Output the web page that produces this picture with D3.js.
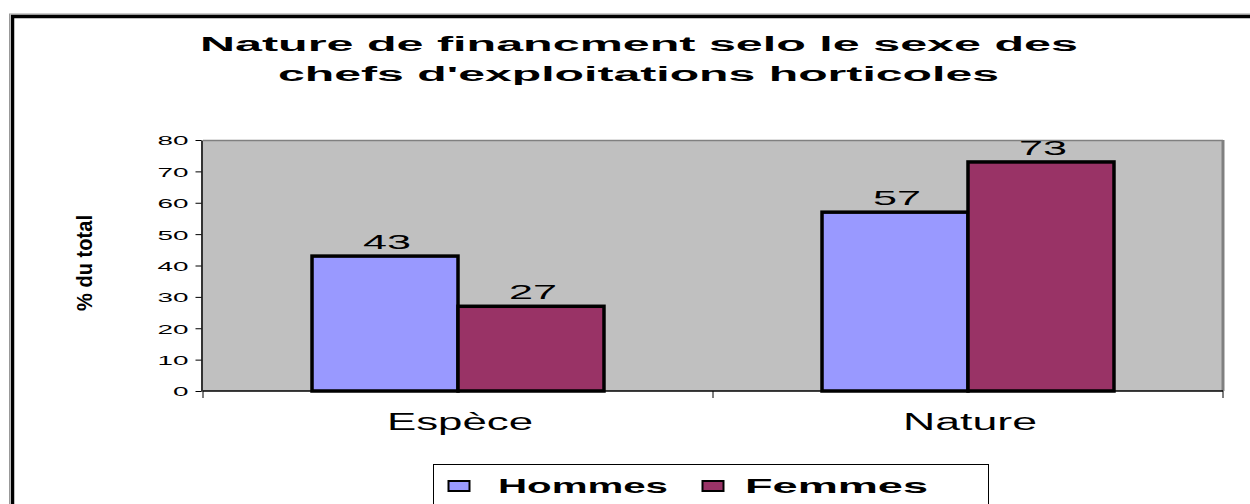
<!DOCTYPE html>
<html lang="fr">
<head>
    <meta charset="UTF-8">
    <title>Nature de financement selon le sexe</title>
    <script src="https://d3js.org/d3.v7.min.js"></script>
    <style>
        body { margin: 0; background: #fff; }
        svg { display: block; font-family: Arial, "Liberation Sans", sans-serif; }
    </style>
</head>
<body>
    <div id="chart"></div>

    <script>
        // data
        const categories = ["Espèce", "Nature"];
        const seriesNames = ["Hommes", "Femmes"];
        const hommes = [43, 57];
        const femmes = [27, 73];
        const yTicks = [0, 10, 20, 30, 40, 50, 60, 70, 80];
        const titleLines = ["Nature de financment selo le sexe des", "chefs d'exploitations horticoles"];
        const yLabel = "% du total";
        const colors = ["#9999FF", "#993366"];

        const W = 1250, H = 504;
        const plot = { left: 203, right: 1223, top: 140, bottom: 391 };

        const svg = d3.select("#chart").append("svg")
            .attr("width", W)
            .attr("height", H);

        // outer frame (runs off the right and bottom edge)
        svg.append("rect")
            .attr("x", 9.5).attr("y", 14)
            .attr("width", 1400).attr("height", 600)
            .attr("fill", "none").attr("stroke", "#999").attr("stroke-width", 1);
        svg.append("rect")
            .attr("x", 12.5).attr("y", 16.5)
            .attr("width", 1400).attr("height", 600)
            .attr("fill", "none").attr("stroke", "#000").attr("stroke-width", 3.5);

        // title
        const titleLen = [878, 721];
        svg.selectAll(".title")
            .data(titleLines)
            .enter().append("text")
            .attr("class", "title")
            .attr("x", (d, i) => i === 0 ? 200 : 278)
            .attr("y", (d, i) => 51 + i * 30)
            .attr("textLength", (d, i) => titleLen[i])
            .attr("lengthAdjust", "spacingAndGlyphs")
            .attr("font-size", 19.5)
            .attr("font-weight", "bold")
            .text(d => d);

        // scales
        const x0 = d3.scaleBand()
            .domain(categories)
            .range([plot.left, plot.right])
            .paddingInner(0.4275)
            .paddingOuter(0.21375);
        const x1 = d3.scaleBand()
            .domain(seriesNames)
            .range([0, x0.bandwidth()]);
        const y = d3.scaleLinear()
            .domain([0, 80])
            .range([plot.bottom, plot.top]);

        // plot area
        svg.append("rect")
            .attr("x", plot.left).attr("y", plot.top)
            .attr("width", plot.right - plot.left)
            .attr("height", plot.bottom - plot.top)
            .attr("fill", "#C0C0C0");
        svg.append("line")
            .attr("x1", plot.left).attr("x2", plot.right)
            .attr("y1", plot.top + 0.5).attr("y2", plot.top + 0.5)
            .attr("stroke", "#808080").attr("stroke-width", 1.5);
        svg.append("line")
            .attr("x1", plot.right).attr("x2", plot.right)
            .attr("y1", plot.top).attr("y2", plot.bottom)
            .attr("stroke", "#808080").attr("stroke-width", 3);

        // y axis
        const yAxis = svg.append("g")
            .attr("transform", `translate(${plot.left - 1.5},0)`)
            .call(d3.axisLeft(y).tickValues(yTicks).tickSize(6).tickSizeOuter(0));
        yAxis.select(".domain").attr("stroke", "#333").attr("stroke-width", 2);
        yAxis.selectAll(".tick line").attr("stroke", "#000");
        yAxis.selectAll(".tick text")
            .attr("x", -13)
            .attr("dy", "0.36em")
            .attr("font-size", 13.5)
            .attr("font-family", "Arial, 'Liberation Sans', sans-serif")
            .attr("fill", "#000")
            .attr("textLength", d => String(d).length * 15.5)
            .attr("lengthAdjust", "spacingAndGlyphs");

        // y label (squeezed like the original)
        svg.append("text")
            .attr("transform", "translate(92,263) rotate(-90)")
            .attr("text-anchor", "middle")
            .attr("font-size", 22)
            .attr("font-weight", "bold")
            .attr("textLength", 96)
            .attr("lengthAdjust", "spacingAndGlyphs")
            .text(yLabel);

        // x axis: baseline and ticks between categories
        svg.append("line")
            .attr("x1", plot.left).attr("x2", plot.right)
            .attr("y1", plot.bottom).attr("y2", plot.bottom)
            .attr("stroke", "#000").attr("stroke-width", 1.5);
        const boundaries = d3.range(categories.length + 1).map(i => plot.left + i * x0.step());
        svg.selectAll(".xtick")
            .data(boundaries)
            .enter().append("line")
            .attr("x1", d => d).attr("x2", d => d)
            .attr("y1", plot.bottom).attr("y2", plot.bottom + 7)
            .attr("stroke", "#000").attr("stroke-width", 1);
        const catLen = [146, 134];
        svg.selectAll(".cat")
            .data(categories)
            .enter().append("text")
            .attr("x", d => x0(d) + x0.bandwidth() / 2 + 2)
            .attr("y", 430)
            .attr("text-anchor", "middle")
            .attr("font-size", 23)
            .attr("textLength", (d, i) => catLen[i])
            .attr("lengthAdjust", "spacingAndGlyphs")
            .text(d => d);

        // bars
        const rows = categories.map((c, i) => ({ cat: c, values: [hommes[i], femmes[i]] }));
        const groups = svg.selectAll(".grp")
            .data(rows)
            .enter().append("g")
            .attr("transform", d => `translate(${x0(d.cat)},0)`);
        groups.selectAll("rect")
            .data(d => d.values.map((v, j) => ({ s: seriesNames[j], v: v, j: j })))
            .enter().append("rect")
            .attr("x", d => x1(d.s))
            .attr("y", d => y(d.v))
            .attr("width", x1.bandwidth())
            .attr("height", d => y(0) - y(d.v))
            .attr("fill", d => colors[d.j])
            .attr("stroke", "#000")
            .attr("stroke-width", 3.5);
        groups.selectAll(".val")
            .data(d => d.values.map((v, j) => ({ s: seriesNames[j], v: v })))
            .enter().append("text")
            .attr("x", d => x1(d.s) + x1.bandwidth() / 2 + 2)
            .attr("y", d => y(d.v) - 7)
            .attr("text-anchor", "middle")
            .attr("font-size", 21)
            .attr("textLength", 48)
            .attr("lengthAdjust", "spacingAndGlyphs")
            .text(d => d.v);

        // legend
        svg.append("rect")
            .attr("x", 433.5).attr("y", 464.5)
            .attr("width", 555).attr("height", 60)
            .attr("fill", "#fff").attr("stroke", "#000").attr("stroke-width", 1);
        const legX = [448, 702];
        const legLen = [170, 183];
        const leg = svg.selectAll(".leg")
            .data(seriesNames)
            .enter().append("g")
            .attr("transform", (d, i) => `translate(${legX[i]},0)`);
        leg.append("rect")
            .attr("x", 0.5).attr("y", 481)
            .attr("width", 21).attr("height", 10)
            .attr("fill", (d, i) => colors[i])
            .attr("stroke", "#000").attr("stroke-width", 2);
        leg.append("text")
            .attr("x", (d, i) => i === 0 ? 50 : 43)
            .attr("y", 493)
            .attr("font-size", 21)
            .attr("font-weight", "bold")
            .attr("textLength", (d, i) => legLen[i])
            .attr("lengthAdjust", "spacingAndGlyphs")
            .text(d => d);
    </script>
</body>
</html>
